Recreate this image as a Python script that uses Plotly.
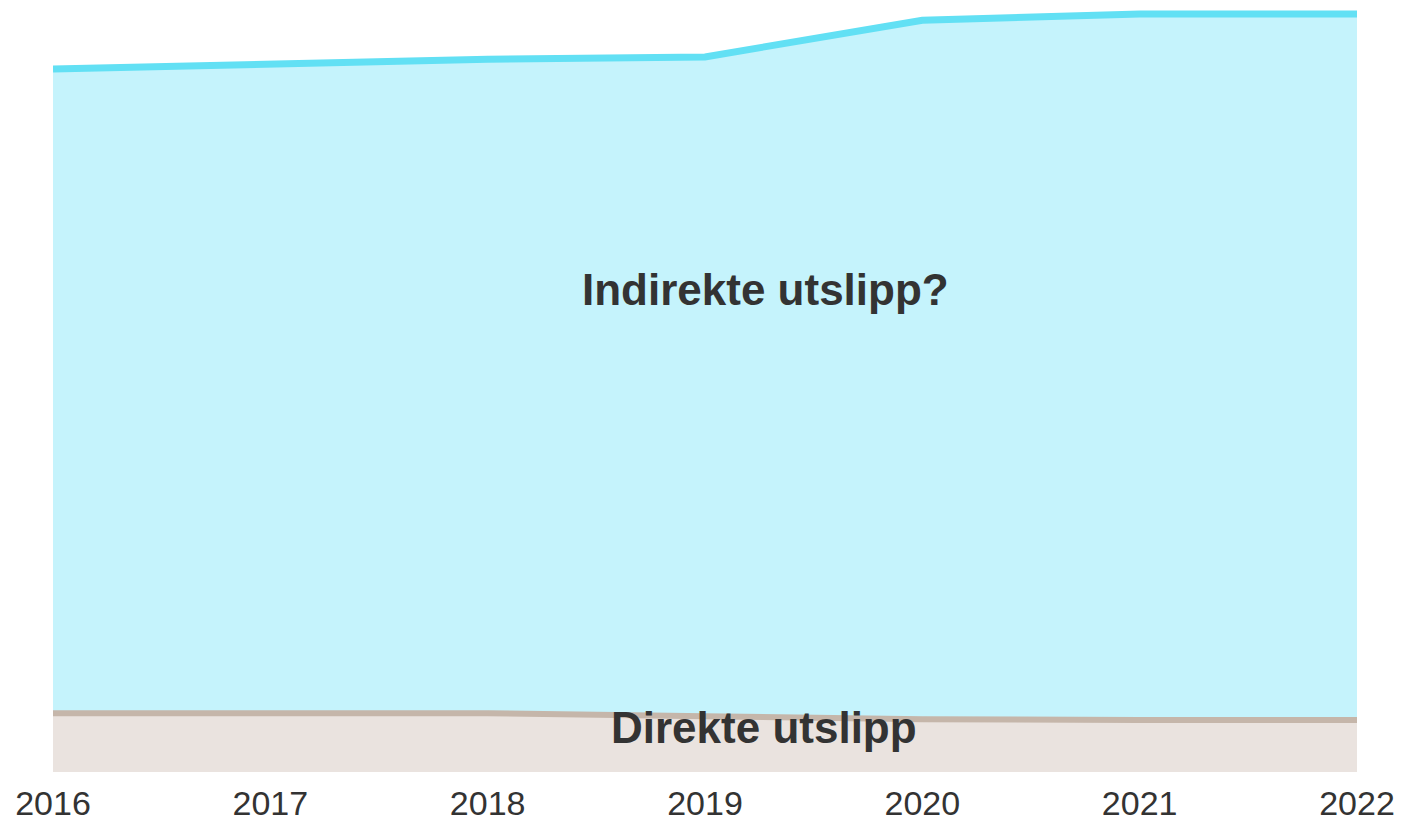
import plotly.graph_objects as go

years = [2016, 2017, 2018, 2019, 2020, 2021, 2022]
direkte = [7.7, 7.7, 7.7, 7.3, 6.9, 6.8, 6.8]
indirekte = [84.3, 85.0, 85.6, 86.3, 91.5, 92.4, 92.4]
tick_labels = ["2016", "2017", "2018", "2019", "2020", "2021", "2022"]

fig = go.Figure()
fig.add_trace(go.Scatter(
    x=years, y=direkte, stackgroup="one", mode="lines",
    line=dict(color="#C5B6AA", width=6),
    fillcolor="#EAE3DF", name="Direkte utslipp", hoverinfo="skip",
))
fig.add_trace(go.Scatter(
    x=years, y=indirekte, stackgroup="one", mode="lines",
    line=dict(color="#62E0F4", width=7),
    fillcolor="#C5F3FC", name="Indirekte utslipp?", hoverinfo="skip",
))

fig.add_annotation(x=2019.28, y=63.2, text="<b>Indirekte utslipp?</b>", showarrow=False,
                   font=dict(family="Liberation Sans, Arial", size=44, color="#333333"))
fig.add_annotation(x=2019.27, y=5.85, text="<b>Direkte utslipp</b>", showarrow=False,
                   font=dict(family="Liberation Sans, Arial", size=44, color="#333333"))

fig.update_layout(
    width=1396, height=813,
    margin=dict(l=45, r=47, t=0, b=49, autoexpand=False),
    paper_bgcolor="white", plot_bgcolor="white",
    showlegend=False,
    font=dict(family="Liberation Sans, Arial", color="#333333"),
)
fig.update_xaxes(range=[2016, 2022], tickvals=years, ticktext=tick_labels,
                 showgrid=False, zeroline=False, showline=False, ticks="",
                 automargin=False,
                 tickfont=dict(size=34, color="#333333"), ticklabelstandoff=8)
fig.update_yaxes(range=[0, 100], showgrid=False, zeroline=False, showline=False,
                 showticklabels=False, ticks="", automargin=False)

fig.write_html("out.html")
